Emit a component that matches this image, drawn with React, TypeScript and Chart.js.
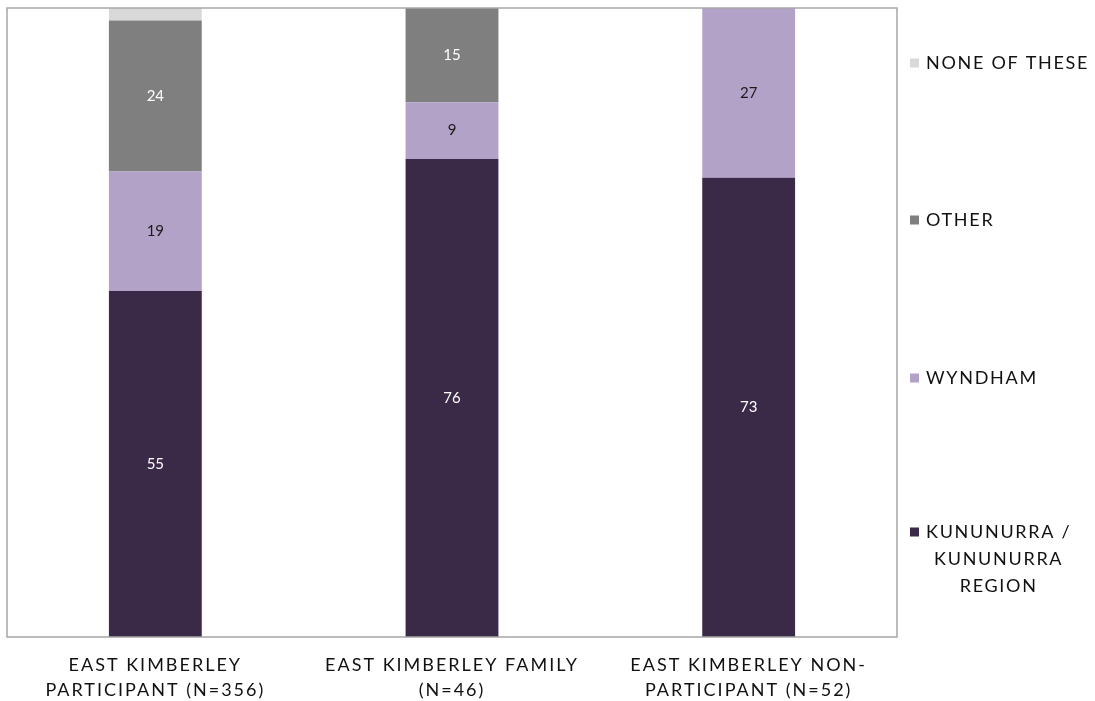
import React, { useEffect, useRef } from "react";
import { Chart, registerables } from "chart.js";
Chart.register(...registerables);

const categories: string[][] = [
  ["EAST KIMBERLEY", "PARTICIPANT (N=356)"],
  ["EAST KIMBERLEY FAMILY", "(N=46)"],
  ["EAST KIMBERLEY NON-", "PARTICIPANT (N=52)"],
];
const seriesNames = ["KUNUNURRA / KUNUNURRA REGION", "WYNDHAM", "OTHER", "NONE OF THESE"];
const kununurra = [55, 76, 73];
const wyndham = [19, 9, 27];
const other = [24, 15, 0];
const noneOfThese = [2, 0, 0];
const legendLines: string[][] = [["KUNUNURRA /", "KUNUNURRA", "REGION"], ["WYNDHAM"], ["OTHER"], ["NONE OF THESE"]];
const colors = ["#3a2a47", "#b3a2c8", "#7f7f7f", "#d9d9d9"];
const labelColors: (string | null)[] = ["#ffffff", "#1a1a1a", "#ffffff", null];

const FONT = "Lato, 'Open Sans', sans-serif";

export default function App() {
  const ref = useRef<HTMLCanvasElement>(null);
  useEffect(() => {
    document.body.style.margin = "0";
    const canvas = ref.current!;
    const series = [kununurra, wyndham, other, noneOfThese];
    const datasets = series.map((d, i) => ({
      label: seriesNames[i],
      data: d,
      backgroundColor: colors[i],
      borderWidth: 0,
      barPercentage: 0.313,
      categoryPercentage: 1,
    }));

    const plugin = {
      id: "custom",
      beforeDraw(chart: any) {
        chart.ctx.letterSpacing = "2px";
      },
      beforeDatasetsDraw(chart: any) {
        chart.ctx.letterSpacing = "0px";
      },
      afterDatasetsDraw(chart: any) {
        const ctx = chart.ctx as CanvasRenderingContext2D;
        ctx.save();
        ctx.letterSpacing = "0px";
        ctx.font = `15px ${FONT}`;
        ctx.textAlign = "center";
        ctx.textBaseline = "middle";
        chart.data.datasets.forEach((ds: any, i: number) => {
          const col = labelColors[i];
          if (!col) return;
          const meta = chart.getDatasetMeta(i);
          meta.data.forEach((el: any, j: number) => {
            const v = ds.data[j];
            if (!v) return;
            ctx.fillStyle = col;
            ctx.fillText(String(v), el.x, (el.y + el.base) / 2);
          });
        });
        ctx.restore();
      },
      afterDraw(chart: any) {
        const ctx = chart.ctx as CanvasRenderingContext2D;
        const a = chart.chartArea;
        ctx.save();
        ctx.strokeStyle = "#a6a6a6";
        ctx.lineWidth = 1.5;
        ctx.strokeRect(a.left, a.top, a.right - a.left, a.bottom - a.top);
        // legend
        ctx.letterSpacing = "1.7px";
        ctx.font = `18px ${FONT}`;
        ctx.textBaseline = "middle";
        const offsets = [524, 370, 212, 55];
        const mx = a.right + 13;
        const tx = a.right + 29;
        legendLines.forEach((lines, i) => {
          const y0 = a.top + offsets[i];
          ctx.fillStyle = colors[i];
          ctx.fillRect(mx, y0 - 4.5, 9, 9);
          ctx.fillStyle = "#111111";
          if (lines.length === 1) {
            ctx.textAlign = "left";
            ctx.fillText(lines[0], tx, y0);
          } else {
            const w = ctx.measureText(lines[0]).width;
            const cx = tx + w / 2;
            ctx.textAlign = "center";
            lines.forEach((ln, k) => ctx.fillText(ln, cx, y0 + k * 27));
          }
        });
        ctx.restore();
      },
    };

    const chart = new Chart(canvas, {
      type: "bar",
      data: { labels: categories as any, datasets },
      options: {
        animation: false,
        responsive: false,
        layout: { padding: { left: 7, top: 8, right: 198, bottom: 0 } },
        plugins: { legend: { display: false }, tooltip: { enabled: false } },
        scales: {
          x: {
            stacked: true,
            grid: { display: false, drawTicks: false },
            border: { display: false },
            ticks: {
              color: "#111111",
              font: { family: FONT, size: 18, lineHeight: 25 / 18 },
              padding: 16,
              maxRotation: 0,
              autoSkip: false,
            },
            afterFit(scale: any) {
              scale.height = 64;
            },
          },
          y: { stacked: true, min: 0, max: 100, display: false },
        },
      },
      plugins: [plugin],
    });
    return () => chart.destroy();
  }, []);
  return (
    <div style={{ width: 1095, height: 701 }}>
      <canvas ref={ref} width={1095} height={701} />
    </div>
  );
}
